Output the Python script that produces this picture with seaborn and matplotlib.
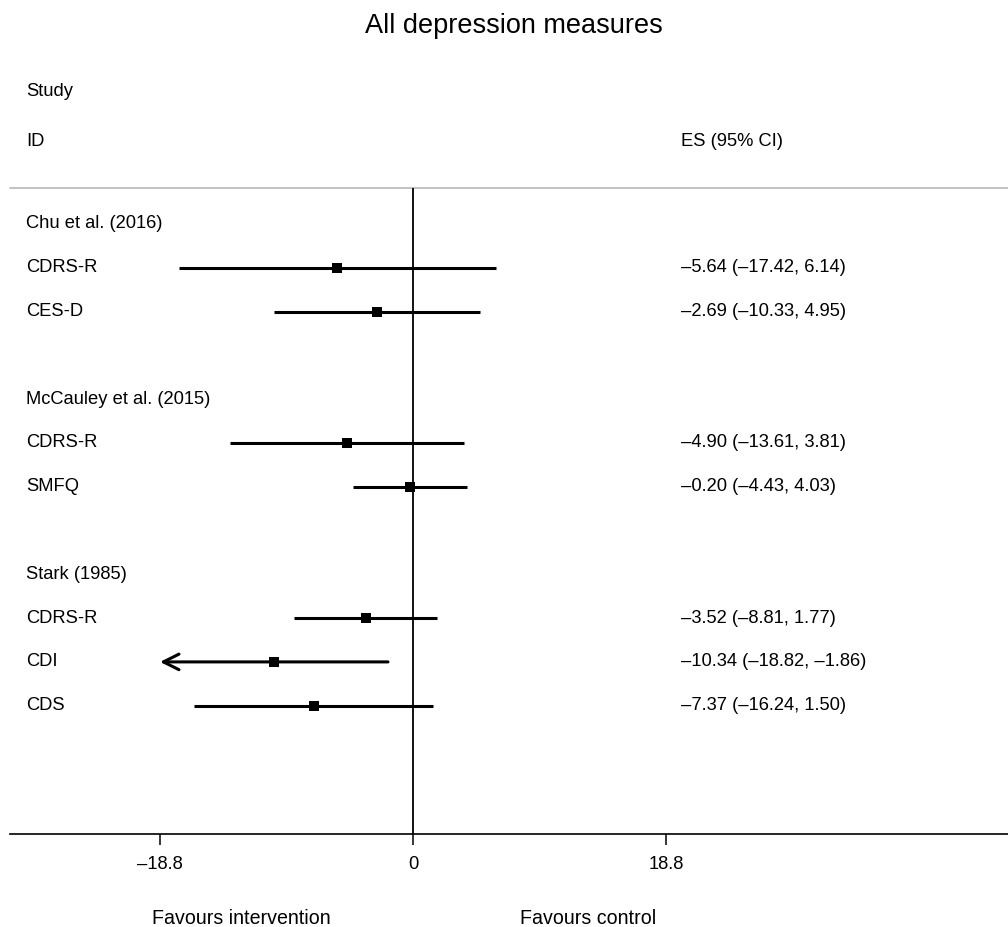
import matplotlib
matplotlib.use("Agg")
import matplotlib.pyplot as plt
import matplotlib.transforms as mtransforms
import seaborn as sns
import pandas as pd

title = "All depression measures"
studies = ["Chu et al. (2016)", "McCauley et al. (2015)", "Stark (1985)"]
measures = [["CDRS-R", "CES-D"], ["CDRS-R", "SMFQ"], ["CDRS-R", "CDI", "CDS"]]
es = [-5.64, -2.69, -4.90, -0.20, -3.52, -10.34, -7.37]
ci_low = [-17.42, -10.33, -13.61, -4.43, -8.81, -18.82, -16.24]
ci_high = [6.14, 4.95, 3.81, 4.03, 1.77, -1.86, 1.50]
axis_limit = 18.8
tick_values = [-18.8, 0, 18.8]
tick_labels = ["\u201318.8", "0", "18.8"]
header_study = "Study"
header_id = "ID"
header_es = "ES (95% CI)"
favours_left = "Favours intervention"
favours_right = "Favours control"

sns.set_style("white")
plt.rcParams['font.family'] = ['Liberation Sans', 'DejaVu Sans']
plt.rcParams['text.color'] = 'black'
plt.rcParams['xtick.color'] = 'black'
plt.rcParams['xtick.labelcolor'] = 'black'

def fmt(v):
    return f"{v:.2f}".replace("-", "\u2013")

# build table of rows
rows = []
heads = []
r = 1
k = 0
for s, ms in zip(studies, measures):
    heads.append((s, r))
    r += 1
    for m in ms:
        rows.append(dict(measure=m, es=es[k], lo=ci_low[k], hi=ci_high[k], row=r))
        k += 1
        r += 1
    r += 1
df = pd.DataFrame(rows)

W, H = 1008, 927
fig = plt.figure(figsize=(W / 100, H / 100), dpi=100)
ax = fig.add_axes([10 / W, 93 / H, 998 / W, 646 / H])

scale = 506 / 37.6
ax.set_xlim((10 - 413) / scale, (1008 - 413) / scale)
ax.set_ylim(14.93, 0.178)

fs = 13.2

# CI lines
for _, d in df.iterrows():
    lo = max(d.lo, -axis_limit)
    hi = min(d.hi, axis_limit)
    if d.lo < -axis_limit:
        ax.annotate("", xy=(lo, d.row), xytext=(hi, d.row),
                    arrowprops=dict(arrowstyle="->", lw=2.2, color="black",
                                    mutation_scale=28, shrinkA=0, shrinkB=0))
    else:
        ax.hlines(d.row, lo, hi, color="black", lw=2.2)

sns.scatterplot(data=df, x="es", y="row", marker="s", s=55, color="black",
                edgecolor="black", linewidth=0, ax=ax, zorder=5, legend=False)

ax.axvline(0, color="black", lw=1.3, zorder=3)
ax.axhline(0.178, color="#bdbdbd", lw=1.3, clip_on=False)

trans = mtransforms.blended_transform_factory(ax.transAxes, ax.transData)
for s, rr in heads:
    ax.text(16 / 998, rr, s, transform=trans, va="center", ha="left", fontsize=fs)
for _, d in df.iterrows():
    ax.text(16 / 998, d.row, d.measure, transform=trans, va="center", ha="left", fontsize=fs)
    ax.text(671 / 998, d.row, f"{fmt(d.es)} ({fmt(d.lo)}, {fmt(d.hi)})",
            transform=trans, va="center", ha="left", fontsize=fs)

for sp in ["top", "left", "right"]:
    ax.spines[sp].set_visible(False)
ax.spines["bottom"].set_color("black")
ax.spines["bottom"].set_linewidth(1.2)
ax.set_xticks(tick_values, tick_labels)
ax.set_yticks([])
ax.tick_params(axis="x", length=8, width=1.1, pad=8, labelsize=fs, direction="out",
               bottom=True, color="black")
ax.set_xlabel("")
ax.set_ylabel("")

fig.text(514 / W, 1 - 26 / H, title, ha="center", va="center", fontsize=19.5)
fig.text(26 / W, 1 - 92 / H, header_study, ha="left", va="center", fontsize=fs)
fig.text(26 / W, 1 - 142 / H, header_id, ha="left", va="center", fontsize=fs)
fig.text(681 / W, 1 - 142 / H, header_es, ha="left", va="center", fontsize=fs)
fig.text(241 / W, 1 - 918 / H, favours_left, ha="center", va="center", fontsize=14.1)
fig.text(588 / W, 1 - 918 / H, favours_right, ha="center", va="center", fontsize=14.1)

fig.savefig("out.png", dpi=100, facecolor="white")
